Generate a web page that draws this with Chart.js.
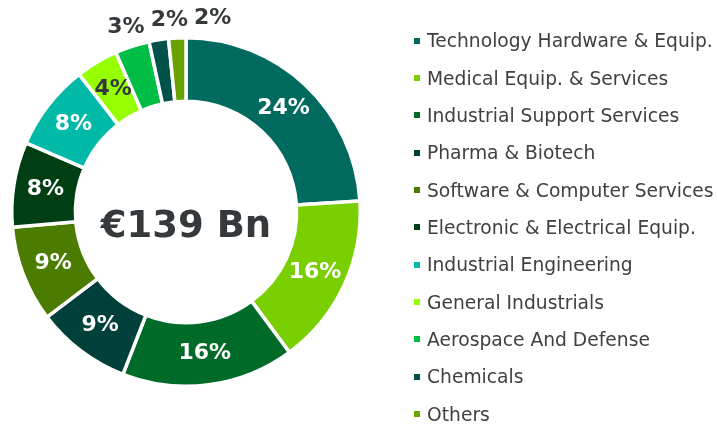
<!DOCTYPE html>
<html>
<head>
<meta charset="utf-8">
<script src="https://cdn.jsdelivr.net/npm/chart.js@4"></script>
<style>
  html, body { margin: 0; padding: 0; background: #fff; }
  #wrap { position: relative; width: 717px; height: 424px; }
  #legend { position: absolute; left: 414px; top: 22px; margin: 0; padding: 0; list-style: none;
            font-family: "DejaVu Sans", Verdana, sans-serif; font-size: 18.7px; color: #404040; }
  #legend li { height: 37.35px; display: flex; align-items: center; white-space: nowrap; }
  #legend span { display: inline-block; width: 6px; height: 6px; margin-right: 7px; }
</style>
</head>
<body>
<div id="wrap">
  <canvas id="sectorChart" width="717" height="424"></canvas>
  <ul id="legend"></ul>
</div>
<script>
const categories = [
  'Technology Hardware & Equip.',
  'Medical Equip. & Services',
  'Industrial Support Services',
  'Pharma & Biotech',
  'Software & Computer Services',
  'Electronic & Electrical Equip.',
  'Industrial Engineering',
  'General Industrials',
  'Aerospace And Defense',
  'Chemicals',
  'Others'
];
// share of the total, in %
const shares = [24.0, 15.9, 16.0, 8.8, 8.9, 7.9, 8.0, 3.9, 3.2, 1.8, 1.6];
const totalLabel = '€139 Bn';

const colours = ['#006A5E', '#7ACF00', '#006B28', '#00403A', '#4B7C00', '#003F14',
                 '#00B9A7', '#96FF00', '#00BD45', '#00524A', '#68A300'];
const darkText = '#35393b';

function luminance(hex) {
  const n = parseInt(hex.slice(1), 16);
  const c = [n >> 16, (n >> 8) & 255, n & 255].map(v => {
    v /= 255;
    return v <= 0.03928 ? v / 12.92 : Math.pow((v + 0.055) / 1.055, 2.4);
  });
  return 0.2126 * c[0] + 0.7152 * c[1] + 0.0722 * c[2];
}

// percent labels + total in the hole
const sliceLabels = {
  id: 'sliceLabels',
  afterDatasetsDraw(chart) {
    const ctx = chart.ctx;
    const meta = chart.getDatasetMeta(0);
    const total = shares.reduce((a, b) => a + b, 0);
    ctx.save();
    ctx.font = 'bold 22px "DejaVu Sans"';
    ctx.textAlign = 'center';
    ctx.textBaseline = 'middle';
    let prevRight = -Infinity;
    meta.data.forEach((arc, i) => {
      const txt = Math.round(shares[i] / total * 100) + '%';
      const w = ctx.measureText(txt).width;
      if (shares[i] < 3.5) {
        // small slices: label outside, pushed apart so they don't collide
        const mid = (arc.startAngle + arc.endAngle) / 2;
        const r = arc.outerRadius + 20;
        let x = arc.x + Math.cos(mid) * r;
        const y = arc.y + Math.sin(mid) * r;
        x = Math.max(x, prevRight + 6 + w / 2);
        prevRight = x + w / 2;
        ctx.fillStyle = darkText;
        ctx.fillText(txt, x, y);
      } else {
        const p = arc.tooltipPosition();
        ctx.fillStyle = luminance(colours[i]) > 0.6 ? darkText : '#fff';
        ctx.fillText(txt, p.x, p.y);
      }
    });
    const a = meta.data[0];
    ctx.font = 'bold 37px "DejaVu Sans"';
    ctx.textBaseline = 'alphabetic';
    ctx.fillStyle = darkText;
    ctx.fillText(totalLabel, a.x, a.y + 25);
    ctx.restore();
  }
};

new Chart(document.getElementById('sectorChart'), {
  type: 'doughnut',
  data: {
    labels: categories,
    datasets: [{
      data: shares,
      backgroundColor: colours,
      borderColor: '#fff',
      borderWidth: 3.5,
      hoverOffset: 0,
      offset: 0
    }]
  },
  options: {
    responsive: false,
    animation: false,
    devicePixelRatio: 1,
    events: [],
    cutout: '63.5%',
    layout: { padding: { left: 10, right: 355, top: 36, bottom: 36 } },
    plugins: {
      legend: { display: false },
      tooltip: { enabled: false }
    }
  },
  plugins: [sliceLabels]
});

const legend = document.getElementById('legend');
categories.forEach((name, i) => {
  const li = document.createElement('li');
  const box = document.createElement('span');
  box.style.background = colours[i];
  li.appendChild(box);
  li.appendChild(document.createTextNode(name));
  legend.appendChild(li);
});
</script>
</body>
</html>
